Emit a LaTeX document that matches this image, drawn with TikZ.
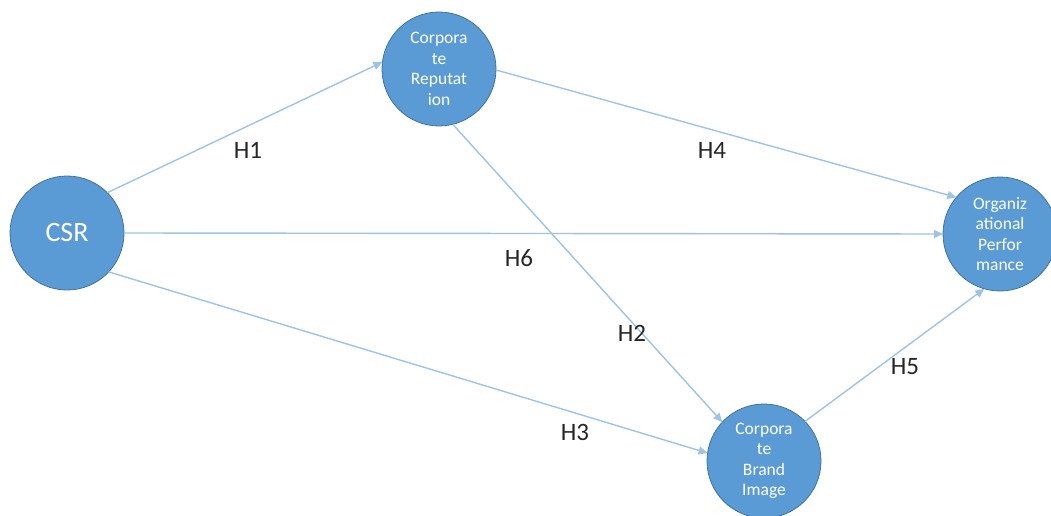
\documentclass[tikz,border=0pt]{standalone}
\usepackage{fontspec}
\setmainfont{Carlito}
\usetikzlibrary{arrows.meta}
\definecolor{nodefill}{RGB}{91,155,213}
\definecolor{nodeline}{RGB}{65,113,156}
\definecolor{edgecol}{RGB}{157,195,230}
\tikzset{
  construct/.style={circle, fill=nodefill, draw=nodeline, line width=0.8pt, minimum size=114pt, inner sep=0pt, outer sep=0pt, text=white, align=center, font=\fontsize{17.5}{20.5}\selectfont},
  link/.style={draw=edgecol, line width=1.4pt, -{Triangle[length=9pt,width=8pt]}},
  hyp/.style={font=\fontsize{25}{28}\selectfont, text=black!85}
}
\begin{document}
\begin{tikzpicture}[x=1pt,y=-1pt]
\useasboundingbox (0,0) rectangle (1051,516);
\node[construct, font=\fontsize{28}{30}\selectfont] (csr) at (67,233) {CSR};
\node[construct] (cr) at (439,69) {Corpora\\te\\Reputat\\ion};
\node[construct] (op) at (1000,234) {Organiz\\ational\\Perfor\\mance};
\node[construct] (cbi) at (764,461) {Corpora\\te\\Brand\\Image};
\draw[link] (csr.45) -- (cr.173);
\draw[link] (cr.-1) -- (op.140);
\draw[link] (csr.0) -- (op.180);
\draw[link] (cr.-76) -- (cbi.137);
\draw[link] (csr.-43) -- (cbi.172);
\draw[link] (cbi.44) -- (op.-106);
\node[hyp] (h1) at (248,150) {H1};
\node[hyp] (h4) at (712,150) {H4};
\node[hyp] (h6) at (519,258) {H6};
\node[hyp] (h2) at (632,333) {H2};
\node[hyp] (h3) at (575,432) {H3};
\node[hyp] (h5) at (905,367) {H5};
\end{tikzpicture}
\end{document}
